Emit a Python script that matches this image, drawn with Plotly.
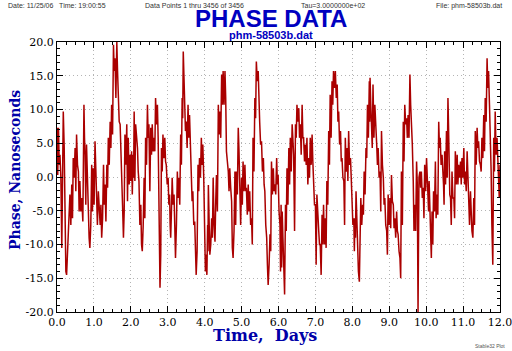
import plotly.graph_objects as go

# Sample epochs (days) and two phase readings (ns) near each epoch
days = [
 0.00,0.04,0.08,0.13,0.17,0.22,0.26,0.31,0.35,0.40,0.44,0.49,0.53,0.58,0.62,0.67,0.73,0.76,0.80,0.85,
 0.89,0.94,0.98,1.03,1.07,1.12,1.17,1.21,1.26,1.30,1.35,1.39,1.44,1.48,1.53,1.57,1.62,1.66,1.71,1.75,
 1.80,1.84,1.89,1.93,1.98,2.02,
 2.06,2.09,2.13,2.18,2.22,2.27,2.31,2.36,2.40,2.45,2.49,2.54,2.58,2.63,2.67,2.72,2.76,2.79,2.83,2.87,
 2.92,2.96,3.01,3.05,3.08,3.12,3.17,3.21,3.26,3.30,3.35,3.39,3.42,3.46,3.50,3.55,3.59,3.64,3.68,3.73,
 3.77,3.82,3.86,3.91,3.95,4.00,4.04,
 4.08,4.10,4.14,4.19,4.23,4.28,4.32,4.37,4.41,4.46,4.50,4.55,4.59,4.64,4.68,4.73,4.77,4.82,4.86,4.91,
 4.95,5.00,5.04,5.09,5.13,5.18,5.22,5.27,5.31,5.36,5.40,5.45,5.49,5.54,5.59,5.63,5.68,5.72,5.77,5.81,
 5.86,5.90,5.95,5.99,6.04,
 6.07,6.10,6.14,6.19,6.23,6.28,6.32,6.37,6.41,6.46,6.50,6.55,6.59,6.64,6.68,6.73,6.77,6.82,6.86,6.91,
 6.95,7.00,7.04,7.09,7.13,7.18,7.22,7.27,7.31,7.36,7.40,7.45,7.49,7.54,7.59,7.63,7.68,7.72,7.77,7.81,
 7.86,7.90,7.95,7.99,8.04,
 8.07,8.10,8.14,8.19,8.23,8.28,8.32,8.37,8.41,8.46,8.48,8.52,8.56,8.61,8.66,8.70,8.75,8.79,8.84,8.88,
 8.93,8.97,9.02,9.06,9.11,9.15,9.20,9.24,9.29,9.33,9.38,9.42,9.47,9.51,9.56,9.60,9.65,9.69,9.74,9.78,
 9.83,9.87,9.92,9.96,10.01,10.05,
 10.08,10.10,10.12,10.16,10.20,10.25,10.29,10.34,10.38,10.43,10.47,10.50,10.55,10.59,10.62,10.66,10.70,
 10.75,10.79,10.84,10.88,10.93,10.97,11.02,11.06,11.11,11.15,11.20,11.24,11.29,11.33,11.38,11.42,11.47,
 11.51,11.56,11.60,11.65,11.69,11.74,11.78,11.83,11.87,11.92,11.96,12.00,
]
phase_a = [
 7.3,7.3,3.3,-10.5,9.7,-10.0,-14.5,-9.0,-2.6,-1.1,2.8,4.3,6.3,0.8,-0.6,-3.1,10.7,3.3,4.8,-7.1,
 -10.5,1.8,1.3,5.3,-1.6,-2.1,-7.1,-9.0,1.8,-1.1,1.8,5.8,8.2,10.7,19.6,17.6,20.0,13.2,7.8,0.8,
 -9.0,6.3,7.8,5.8,3.3,3.8,
 3.3,9.7,7.8,4.3,-0.6,-4.1,-11.0,-0.1,5.8,10.7,7.8,7.3,7.8,5.8,11.7,10.7,-9.0,-16.4,4.3,6.3,
 5.8,1.8,-0.1,-2.6,-9.0,-0.1,-2.6,-12.0,0.8,-0.1,6.3,11.7,18.6,11.7,8.2,10.7,9.2,1.8,-2.1,-6.6,
 -14.5,1.8,2.8,5.8,4.8,-9.0,-11.5,
 -7.1,-1.2,-11.5,-6.1,-0.1,-9.6,0.3,10.7,9.7,15.2,15.7,15.7,3.8,0.8,1.3,-3.6,-12.0,0.8,0.8,7.3,
 -0.1,-0.1,2.3,1.8,-1.6,-1.1,-2.1,-6.1,5.8,11.7,17.1,15.7,8.2,5.3,2.8,-2.1,-9.0,-16.0,-8.5,2.3,
 1.3,-1.1,2.8,0.3,-7.1,
 -4.1,-5.1,-13.4,-4.1,1.3,4.3,5.8,7.8,3.3,7.8,10.7,10.2,7.8,10.7,5.8,4.8,5.8,2.8,5.8,6.3,
 -0.1,-4.1,-2.6,-8.0,-10.0,-5.6,-4.1,-6.1,-0.6,6.8,12.2,14.2,15.7,15.7,13.7,9.7,6.8,2.8,-0.6,5.8,
 4.3,6.8,2.8,-3.1,-6.1,
 -6.1,-2.1,-9.0,-15.5,-3.1,-4.1,0.8,4.3,10.7,14.2,14.7,8.2,13.7,10.7,4.8,4.3,0.8,6.8,-0.1,-3.1,
 -8.0,-2.6,-3.1,0.3,-4.1,-6.1,-5.1,-8.5,-12.0,0.8,8.2,10.7,8.7,9.2,15.2,8.2,-0.6,-4.1,2.3,-20.0,
 0.8,0.8,-1.6,1.8,2.8,-2.1,
 -0.6,-4.1,-9.0,-5.1,-2.1,2.3,-2.6,8.2,5.8,3.3,-1.1,3.8,6.8,11.7,1.8,-3.1,0.8,
 -3.1,3.8,3.3,1.8,2.3,2.8,4.3,0.8,3.8,-4.1,-2.1,-8.0,-3.1,6.8,7.3,5.3,1.8,
 5.8,9.2,11.7,17.6,15.7,5.8,-7.1,5.8,9.7,5.8,-0.1,1.8,
]
phase_b = [
 0.3,1.8,-0.1,0.8,4.3,-14.0,-11.5,-5.1,-7.1,-6.1,-0.1,-2.1,1.8,-5.1,-5.1,-6.6,5.8,-4.1,-0.1,-9.0,
 -7.1,-5.1,-4.1,0.8,-7.1,-5.1,-4.1,-6.1,-4.1,-6.6,-1.6,1.8,4.3,6.3,15.7,11.7,15.7,8.2,2.8,-4.1,
 -5.1,1.8,-3.6,-1.1,-0.6,-2.6,
 -0.1,-0.6,5.8,0.8,-7.1,-10.0,-7.1,-6.1,1.8,5.8,-2.1,3.3,3.8,3.8,7.8,5.8,-14.5,-11.5,0.8,2.8,
 2.3,-1.1,-4.1,-7.1,-5.1,-4.1,-7.1,-7.1,-3.1,-4.1,1.8,8.7,14.7,6.8,4.3,5.8,3.8,-3.6,-7.1,-10.0,
 -11.0,-2.1,-0.1,1.8,-0.1,-14.0,-14.5,
 -11.0,-7.1,-10.0,-9.0,-7.1,-3.6,-5.1,6.3,5.8,10.7,10.7,11.7,2.3,-2.1,-1.6,-10.5,-8.0,-7.1,-2.6,3.8,
 -7.1,-4.1,-2.1,-2.1,-5.6,-5.1,-7.1,-10.0,0.8,8.7,14.2,10.7,4.8,0.8,-1.1,-7.1,-13.0,-13.0,-11.0,-2.6,
 -2.1,-2.6,-1.1,-5.1,-14.0,
 -13.4,-9.0,-17.4,-8.0,-4.1,-1.1,0.8,3.8,-8.0,5.8,8.2,5.8,3.3,5.8,2.3,1.8,-1.1,-0.1,1.8,2.3,
 -4.1,-13.0,-7.1,-10.0,-14.5,-10.0,-10.0,-10.5,-4.1,1.8,5.8,10.7,13.2,11.7,8.2,4.8,2.3,-0.1,-7.1,0.8,
 -0.6,1.8,-0.1,-7.1,-11.0,
 -9.0,-7.1,-14.0,-10.0,-7.1,-5.6,-2.6,2.8,5.8,8.2,10.7,4.3,5.8,5.8,1.8,-0.1,-5.1,1.8,-4.1,-7.1,
 -11.5,-7.1,-7.6,-3.6,-7.6,-9.0,-8.0,-11.0,-15.0,-7.1,2.3,7.8,5.8,5.8,10.7,4.8,-8.0,-8.0,-1.1,-0.1,
 -1.6,-3.1,-6.1,-2.1,-1.1,-5.1,
 -2.6,-7.1,-12.0,-10.0,-5.1,-6.1,-5.6,4.3,1.8,-1.1,-4.1,-1.1,-0.1,7.8,-2.6,-7.1,-3.1,
 -6.1,-1.1,-1.1,-0.1,-1.1,-0.1,-1.1,-2.1,-0.1,-7.1,-6.6,-9.0,-7.1,1.8,4.3,2.3,0.8,
 2.8,3.8,8.2,13.2,10.7,0.8,-13.0,0.8,3.3,-0.1,-3.1,-0.1,
]

x_ticks = [0, 1, 2, 3, 4, 5, 6, 7, 8, 9, 10, 11, 12]
y_ticks = [-20, -15, -10, -5, 0, 5, 10, 15, 20]

# interleave the two readings per epoch
xs, ys = [], []
for i, d in enumerate(days):
    nxt = days[i + 1] if i + 1 < len(days) else d
    xs += [d, (d + nxt) / 2]
    ys += [phase_a[i], phase_b[i]]

BLUE = "#0000A8"
fig = go.Figure(go.Scatter(x=xs, y=ys, mode="lines",
                           line=dict(color="#AA0000", width=1.5),
                           hoverinfo="skip"))

tickfont = dict(family="DejaVu Serif", size=11, color="black")
common = dict(showline=True, linecolor="black", linewidth=1, mirror="allticks",
              ticks="inside", ticklen=6, tickcolor="black",
              showgrid=True, gridcolor="#B4B4B4", griddash="1px,3px", gridwidth=1,
              zeroline=False, tickfont=tickfont, automargin=False,
              ticklabeloverflow="allow")

fig.update_layout(
    width=512, height=351,
    margin=dict(l=57, r=12, t=42, b=39),
    paper_bgcolor="white", plot_bgcolor="white",
    showlegend=False,
    xaxis=dict(range=[0, 12], tickvals=x_ticks,
               ticktext=[f"{v:.1f}" for v in x_ticks],
               minor=dict(ticks="inside", dtick=0.25, ticklen=3, tickcolor="black", showgrid=False),
               **common),
    yaxis=dict(range=[-20, 20], tickvals=y_ticks,
               ticktext=[f"{v:.1f}" for v in y_ticks],
               minor=dict(ticks="inside", dtick=1, ticklen=3, tickcolor="black", showgrid=False),
               **common),
)

plot_w = 512 - 57 - 12
plot_h = 351 - 42 - 39
def px_x(px):
    return (px - 57) / plot_w
def px_y(py):
    return (351 - 39 - py) / plot_h

small = dict(family="Liberation Sans", size=7, color="#333333")
header = [
    ("Date: 11/25/06   Time: 19:00:55", 7, "left"),
    ("Data Points 1 thru 3456 of 3456", 144, "left"),
    ("Tau=3.0000000e+02", 300, "left"),
    ("File: phm-58503b.dat", 503, "right"),
]
for text, xp, anc in header:
    fig.add_annotation(xref="paper", yref="paper", x=px_x(xp), y=px_y(5.5), text=text,
                       showarrow=False, font=small, xanchor=anc, yanchor="middle",
                       borderpad=0)

fig.add_annotation(xref="paper", yref="paper", x=px_x(271), y=px_y(18), text="<b>PHASE DATA</b>",
                   showarrow=False, xanchor="center", yanchor="middle", borderpad=0,
                   font=dict(family="Liberation Sans", size=24, color="#0000C0"))
fig.add_annotation(xref="paper", yref="paper", x=px_x(271), y=px_y(35), text="<b>phm-58503b.dat</b>",
                   showarrow=False, xanchor="center", yanchor="middle", borderpad=0,
                   font=dict(family="Liberation Sans", size=11, color="#0000C0"))
# axis titles
fig.add_annotation(xref="paper", yref="paper", x=px_x(265), y=px_y(335.5), text="<b>Time,  Days</b>",
                   showarrow=False, xanchor="center", yanchor="middle", borderpad=0,
                   font=dict(family="DejaVu Serif", size=16, color=BLUE))
fig.add_annotation(xref="paper", yref="paper", x=px_x(15), y=px_y(170), text="<b>Phase, Nanoseconds</b>",
                   showarrow=False, xanchor="center", yanchor="middle", borderpad=0, textangle=-90,
                   font=dict(family="DejaVu Serif", size=14, color=BLUE))
fig.add_annotation(xref="paper", yref="paper", x=px_x(506), y=px_y(346), text="Stable32 Plot",
                   showarrow=False, xanchor="right", yanchor="middle", borderpad=0,
                   font=dict(family="Liberation Sans", size=5, color="#555555"))

fig.write_html("out.html")
